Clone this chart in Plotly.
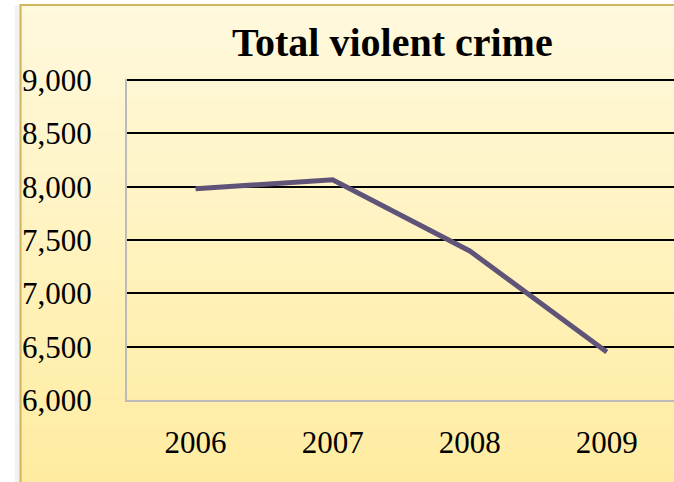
import plotly.graph_objects as go

years = ["2006", "2007", "2008", "2009"]
violent_crime = [7980, 8065, 7398, 6450]
y_ticks = [6000, 6500, 7000, 7500, 8000, 8500, 9000]
y_tick_labels = ["6,000", "6,500", "7,000", "7,500", "8,000", "8,500", "9,000"]

W, H = 674, 482
L, R, T, B = 127, 0, 79, 82
pw, ph = W - L - R, H - T - B

def px_x(px):
    return (px - L) / pw

def px_y(py):
    return (H - B - py) / ph

fig = go.Figure()
fig.add_trace(go.Scatter(
    x=list(range(len(years))), y=violent_crime, mode="lines",
    line=dict(color="#5F5478", width=5), hoverinfo="skip", showlegend=False))

shapes = []
# gradient background inside chart border
top_c = (255, 249, 222)
bot_c = (255, 236, 160)
n = 60
y0p, y1p = 4, 482
for i in range(n):
    a = y0p + (y1p - y0p) * i / n
    b = y0p + (y1p - y0p) * (i + 1) / n + 0.5
    t = (i + 0.5) / n
    c = tuple(int(round(top_c[k] + (bot_c[k] - top_c[k]) * t)) for k in range(3))
    shapes.append(dict(type="rect", xref="paper", yref="paper", layer="below",
                       x0=px_x(20), x1=px_x(680), y0=px_y(b), y1=px_y(a),
                       fillcolor="rgb(%d,%d,%d)" % c, line=dict(width=0)))
# faint shadow
shapes.append(dict(type="rect", xref="paper", yref="paper", layer="below",
                   x0=px_x(15), x1=px_x(19), y0=px_y(490), y1=px_y(6),
                   fillcolor="rgba(0,0,0,0.05)", line=dict(width=0)))
# border
shapes.append(dict(type="rect", xref="paper", yref="paper", layer="below",
                   x0=px_x(20.5), x1=px_x(690), y0=px_y(500), y1=px_y(5),
                   fillcolor="rgba(0,0,0,0)", line=dict(color="#D4B65C", width=2.2)))

fig.update_layout(
    width=W, height=H,
    margin=dict(l=L, r=R, t=T, b=B, pad=0),
    paper_bgcolor="white", plot_bgcolor="rgba(0,0,0,0)",
    font=dict(family="Liberation Serif", color="black"),
    shapes=shapes,
    annotations=[dict(text="<b>Total violent crime</b>", xref="paper", yref="paper",
                      x=px_x(392), y=px_y(43), xanchor="center", yanchor="middle",
                      showarrow=False, font=dict(size=40, family="Liberation Serif", color="black"))],
    xaxis=dict(range=[-0.5, 3.49], tickmode="array", tickvals=list(range(len(years))),
               ticktext=years, showgrid=False, zeroline=False,
               showline=True, linecolor="#BBBBBB", linewidth=2,
               ticks="", tickfont=dict(size=31), ticklabelstandoff=14),
    yaxis=dict(range=[6000, 9010], tickmode="array", tickvals=y_ticks,
               ticktext=y_tick_labels, showgrid=True, gridcolor="black", gridwidth=1.6,
               zeroline=False, showline=True, linecolor="#BBBBBB", linewidth=2,
               ticks="", tickfont=dict(size=31), ticklabelstandoff=27),
)

fig.write_html("out.html")
